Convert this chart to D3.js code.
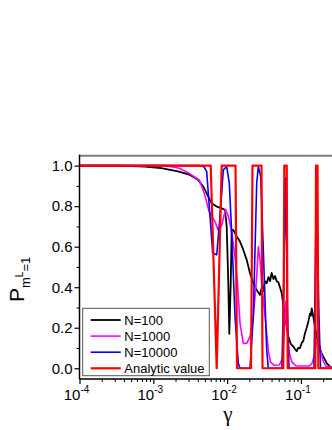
<!DOCTYPE html>
<html>
<head>
<meta charset="utf-8">
<script src="https://cdn.jsdelivr.net/npm/d3@7"></script>
<style>
  body { margin: 0; background: #fff; }
  svg { display: block; font-family: "Liberation Sans", Arial, sans-serif; }
</style>
</head>
<body>
<div id="chart"></div>
<script>
// data (gamma, probability)
var gamma100 = [1e-4, 3.54e-4, 7.65e-4, 1.283e-3, 2.161e-3, 3.143e-3, 4.034e-3, 4.759e-3, 5.564e-3, 6.184e-3, 7.228e-3, 8.451e-3, 9.365e-3, 9.877e-3, 1.038e-2, 1.071e-2, 1.119e-2, 1.154e-2, 1.213e-2, 1.349e-2, 1.496e-2, 1.658e-2, 1.843e-2, 2.043e-2, 2.265e-2, 2.518e-2, 2.792e-2, 2.95e-2, 3.095e-2, 3.25e-2, 3.44e-2, 3.639e-2, 3.814e-2, 4.021e-2, 4.254e-2, 4.459e-2, 4.7e-2, 4.941e-2, 5.2e-2, 5.494e-2, 6.088e-2, 6.75e-2, 7.3e-2, 7.889e-2, 8.3e-2, 8.772e-2, 9.2e-2, 9.723e-2, 0.1025, 0.1078, 0.113, 0.1198, 0.126, 0.1328, 0.1365, 0.1401, 0.1472, 0.1637, 0.1815, 0.2012, 0.2237, 0.248, 0.28];
var p100 = [1.0, 1.0, 0.995, 0.988, 0.972, 0.954, 0.93, 0.896, 0.847, 0.814, 0.798, 0.79, 0.781, 0.70, 0.42, 0.17, 0.42, 0.683, 0.683, 0.65, 0.625, 0.584, 0.535, 0.469, 0.42, 0.386, 0.362, 0.40, 0.38, 0.43, 0.42, 0.45, 0.43, 0.47, 0.44, 0.455, 0.43, 0.425, 0.40, 0.37, 0.255, 0.156, 0.12, 0.107, 0.095, 0.085, 0.10, 0.10, 0.125, 0.135, 0.17, 0.20, 0.23, 0.27, 0.26, 0.295, 0.255, 0.156, 0.09, 0.057, 0.025, 0.008, 0.0];

var gamma1000 = [1e-4, 1.486e-3, 2.25e-3, 3.07e-3, 4.2e-3, 4.91e-3, 5.74e-3, 6.86e-3, 7.53e-3, 8.45e-3, 9.51e-3, 1.029e-2, 1.147e-2, 1.279e-2, 1.383e-2, 1.496e-2, 1.658e-2, 1.843e-2, 2.043e-2, 2.265e-2, 2.518e-2, 2.648e-2, 2.792e-2, 2.943e-2, 3.264e-2, 3.616e-2, 3.873e-2, 4.32e-2, 5.1e-2, 5.67e-2, 5.99e-2, 6.22e-2, 6.48e-2, 6.96e-2, 7.58e-2, 8.58e-2, 0.13, 0.1414, 0.1519, 0.1627, 0.1705, 0.1815, 0.1974, 0.2188, 0.28];
var p1000 = [1.0, 1.0, 0.987, 0.962, 0.929, 0.864, 0.77, 0.724, 0.683, 0.705, 0.785, 0.755, 0.68, 0.55, 0.42, 0.222, 0.123, 0.123, 0.156, 0.255, 0.452, 0.6, 0.535, 0.42, 0.255, 0.09, 0.03, 0.015, 0.016, 0.05, 0.2, 0.33, 0.2, 0.074, 0.03, 0.011, 0.011, 0.025, 0.06, 0.13, 0.13, 0.107, 0.04, 0.01, 0.005];

var gamma10000 = [1e-4, 4.29e-3, 4.86e-3, 5.29e-3, 5.87e-3, 6.38e-3, 7.23e-3, 8.01e-3, 8.88e-3, 9.88e-3, 1.071e-2, 1.154e-2, 1.279e-2, 1.418e-2, 1.496e-2, 2.043e-2, 2.265e-2, 2.518e-2, 2.648e-2, 2.854e-2, 3.095e-2, 3.44e-2, 3.616e-2, 5.54e-2, 5.9e-2, 6.22e-2, 6.54e-2, 6.9e-2, 0.1505, 0.1627, 0.1743, 0.1844, 0.28];
var p10000 = [1.0, 1.0, 0.995, 0.97, 0.748, 0.568, 0.56, 0.748, 0.979, 0.995, 0.913, 0.666, 0.255, 0.025, 0.0, 0.0, 0.255, 0.913, 0.995, 0.946, 0.584, 0.09, 0.0, 0.0, 0.5, 0.94, 0.3, 0.0, 0.0, 0.95, 0.3, 0.0, 0.0];

var gammaAnalytic = [1e-4, 5.995e-3, 7.23e-3, 8.45e-3, 1.300e-2, 1.362e-2, 2.108e-2, 2.209e-2, 2.925e-2, 3.018e-2, 5.774e-2, 5.958e-2, 6.422e-2, 6.625e-2, 0.1567, 0.1602, 0.1679, 0.1722, 0.28];
var pAnalytic = [1, 1, 0, 1, 1, 0, 0, 1, 1, 0, 0, 1, 1, 0, 0, 1, 1, 0, 0];

var seriesNames = ["N=100", "N=1000", "N=10000", "Analytic value"];
var seriesColors = ["#000000", "#ff00ff", "#0000ff", "#ff0000"];
var yTicks = [0, 0.2, 0.4, 0.6, 0.8, 1.0];
var yMinor = [0.1, 0.3, 0.5, 0.7, 0.9];
var xTicks = [1e-4, 1e-3, 1e-2, 1e-1];

var totalWidth = 332, totalHeight = 430;
var plotLeft = 79.5, plotRight = 352.5, plotTop = 155.7, plotBottom = 379;

var svg = d3.select("#chart").append("svg")
    .attr("width", totalWidth)
    .attr("height", totalHeight);

// log scale for gamma, linear for probability
var xScale = d3.scaleLog()
    .domain([1e-4, 0.5])
    .range([plotLeft, plotRight]);

var yScale = d3.scaleLinear()
    .domain([-0.053, 1.049])
    .range([plotBottom, plotTop]);

// clip lines to the plot box
svg.append("clipPath").attr("id", "plotClip")
  .append("rect")
    .attr("x", plotLeft).attr("y", plotTop - 2)
    .attr("width", totalWidth - plotLeft).attr("height", plotBottom - plotTop + 2);

var line = d3.line()
    .x(function(d) { return xScale(d[0]); })
    .y(function(d) { return yScale(d[1]); });

var series = [
  d3.zip(gamma100, p100),
  d3.zip(gamma1000, p1000),
  d3.zip(gamma10000, p10000),
  d3.zip(gammaAnalytic, pAnalytic)
];
var widths = [1.8, 1.6, 1.6, 2.2];

var plot = svg.append("g").attr("clip-path", "url(#plotClip)");
series.forEach(function(s, i) {
  plot.append("path")
      .datum(s)
      .attr("fill", "none")
      .attr("stroke", seriesColors[i])
      .attr("stroke-width", widths[i])
      .attr("stroke-linejoin", "round")
      .attr("d", line);
});

// top frame (grey)
svg.append("line")
    .attr("x1", plotLeft).attr("x2", totalWidth)
    .attr("y1", plotTop).attr("y2", plotTop)
    .attr("stroke", "#808080")
    .attr("stroke-width", 2);

// y axis
var yAxis = d3.axisLeft(yScale)
    .tickValues(yTicks)
    .tickSize(5)
    .tickSizeOuter(0)
    .tickFormat(d3.format(".1f"));
var gy = svg.append("g")
    .attr("transform", "translate(" + plotLeft + ",0)")
    .call(yAxis);
gy.select(".domain").remove();
gy.selectAll("text").style("font-size", "15px").attr("fill", "#000").attr("x", -7);
gy.selectAll("line").attr("stroke-width", 1.2);

var gyMinor = svg.append("g")
    .attr("transform", "translate(" + plotLeft + ",0)")
    .call(d3.axisLeft(yScale).tickValues(yMinor).tickSize(3).tickFormat(""));
gyMinor.select(".domain").remove();

svg.append("line")
    .attr("x1", plotLeft).attr("x2", plotLeft)
    .attr("y1", plotTop - 1).attr("y2", plotBottom)
    .attr("stroke", "#000").attr("stroke-width", 1.5);

// x axis
var xMinor = [];
xTicks.forEach(function(t) {
  for (var k = 2; k <= 9; k++) xMinor.push(t * k);
});

var gx = svg.append("g")
    .attr("transform", "translate(0," + plotBottom + ")")
    .call(d3.axisBottom(xScale).tickValues(xTicks).tickSize(5).tickSizeOuter(0).tickFormat(""));
gx.select(".domain").remove();
gx.selectAll("line").attr("stroke-width", 1.2);

var gxMinor = svg.append("g")
    .attr("transform", "translate(0," + plotBottom + ")")
    .call(d3.axisBottom(xScale).tickValues(xMinor).tickSize(3).tickFormat(""));
gxMinor.select(".domain").remove();

svg.append("line")
    .attr("x1", plotLeft).attr("x2", totalWidth)
    .attr("y1", plotBottom).attr("y2", plotBottom)
    .attr("stroke", "#000").attr("stroke-width", 1.5);

// tick labels 10^n with superscript
var xLabels = svg.selectAll(".xlab")
    .data(xTicks)
    .enter()
    .append("text")
    .attr("class", "xlab")
    .attr("x", function(d) { return xScale(d) - 3; })
    .attr("y", 400)
    .attr("text-anchor", "middle")
    .style("font-size", "15px");
xLabels.append("tspan").text("10");
xLabels.append("tspan")
    .attr("dy", -7)
    .style("font-size", "10px")
    .text(function(d) { return "-" + Math.round(-Math.log10(d)); });

// axis titles
svg.append("text")
    .attr("x", 228)
    .attr("y", 421)
    .attr("text-anchor", "middle")
    .style("font-family", "'Liberation Serif', serif")
    .style("font-size", "21px")
    .text("γ");

var yTitle = svg.append("text")
    .attr("transform", "translate(" + [24, 302] + ") rotate(-90)")
    .style("font-size", "21px");
yTitle.append("tspan").text("P");
yTitle.append("tspan").attr("dy", 6).style("font-size", "13px").text("m");
yTitle.append("tspan").attr("dy", -7).style("font-size", "10px").text("L");
yTitle.append("tspan").attr("dy", 7).style("font-size", "13px").text("=1");

// legend
var legend = svg.append("g");
legend.append("rect")
    .attr("x", 82.7).attr("y", 308.3)
    .attr("width", 126.6).attr("height", 67.4)
    .attr("fill", "#fff")
    .attr("stroke", "#555")
    .attr("stroke-width", 1);

var items = legend.selectAll(".item")
    .data(seriesNames)
    .enter()
    .append("g")
    .attr("class", "item")
    .attr("transform", function(d, i) { return "translate(0," + (320 + i * 16.1) + ")"; });

items.append("line")
    .attr("x1", 90.7).attr("x2", 120.7)
    .attr("stroke", function(d, i) { return seriesColors[i]; })
    .attr("stroke-width", function(d, i) { return widths[i]; });

items.append("text")
    .attr("x", 124.3)
    .attr("y", 4.8)
    .style("font-size", "13px")
    .text(function(d) { return d; });
</script>
</body>
</html>
